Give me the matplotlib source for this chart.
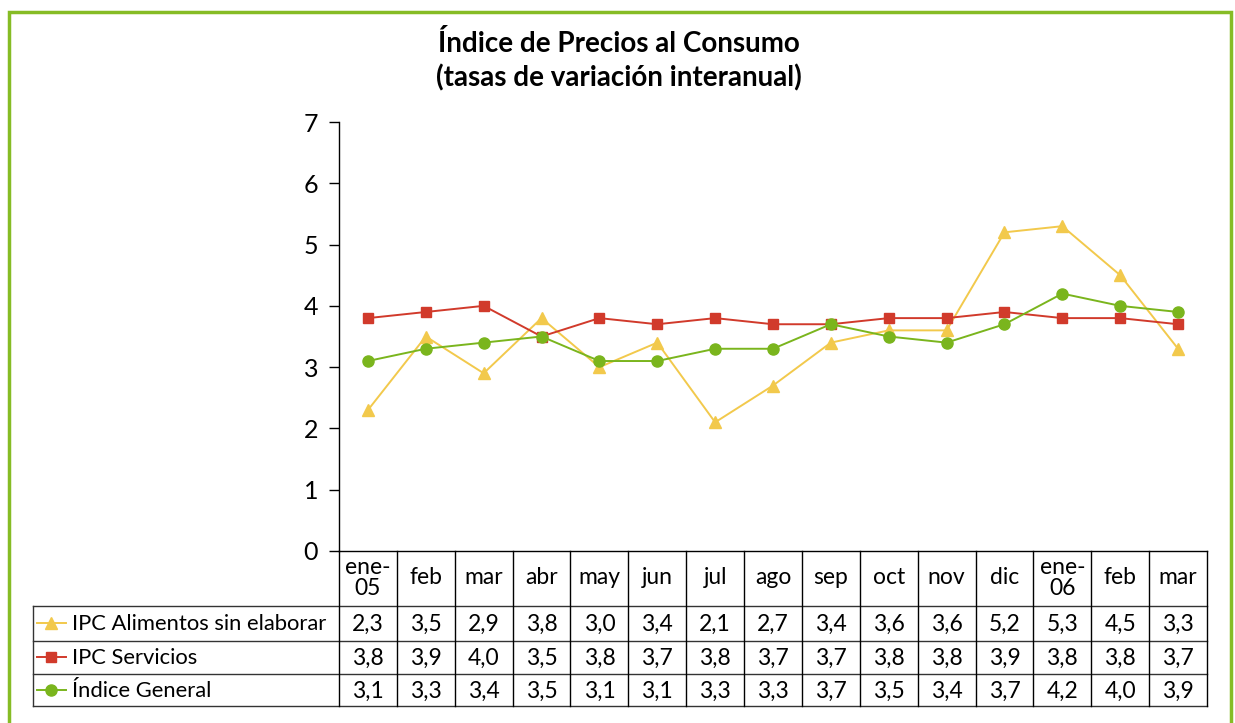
import numpy as np
import matplotlib
matplotlib.use('Agg')
import matplotlib.pyplot as plt
import matplotlib.transforms as mtransforms
from matplotlib.patches import Rectangle
from matplotlib.lines import Line2D

plt.rcParams['font.family'] = ['Lato', 'DejaVu Sans']

# datos
meses = ['ene-\n05', 'feb', 'mar', 'abr', 'may', 'jun', 'jul', 'ago', 'sep',
         'oct', 'nov', 'dic', 'ene-\n06', 'feb', 'mar']
alimentos = [2.3, 3.5, 2.9, 3.8, 3.0, 3.4, 2.1, 2.7, 3.4, 3.6, 3.6, 5.2, 5.3, 4.5, 3.3]
servicios = [3.8, 3.9, 4.0, 3.5, 3.8, 3.7, 3.8, 3.7, 3.7, 3.8, 3.8, 3.9, 3.8, 3.8, 3.7]
general = [3.1, 3.3, 3.4, 3.5, 3.1, 3.1, 3.3, 3.3, 3.7, 3.5, 3.4, 3.7, 4.2, 4.0, 3.9]
nombres = ['IPC Alimentos sin elaborar', 'IPC Servicios', 'Índice General']
yticks = [0, 1, 2, 3, 4, 5, 6, 7]

amarillo = '#F2C94C'
rojo = '#D13A2B'
verde = '#7AB51D'

W, H = 1235, 723
fig = plt.figure(figsize=(W / 100, H / 100), dpi=100)
ax = fig.add_axes([339 / W, 1 - 551 / H, (1207 - 339) / W, (551 - 122) / H])

x = np.arange(len(meses))
series = [(alimentos, amarillo, '^', 8), (servicios, rojo, 's', 7.5), (general, verde, 'o', 8)]
for vals, col, mk, ms in series:
    ax.plot(x, vals, color=col, marker=mk, markersize=ms, linewidth=1.4,
            markeredgecolor=col)

ax.set_xlim(-0.5, len(meses) - 0.5)
ax.set_ylim(0, 7)
ax.set_yticks(yticks)
ax.set_yticklabels([str(t) for t in yticks], fontsize=18)
ax.tick_params(axis='y', direction='out', length=7, width=1, pad=8)
ax.set_xticks([])
for s in ['top', 'right']:
    ax.spines[s].set_visible(False)
ax.spines['left'].set_linewidth(1)
ax.spines['bottom'].set_linewidth(1)

fig.text(619 / W, 1 - 44 / H, 'Índice de Precios al Consumo', ha='center', va='center',
         fontsize=20, fontweight='bold')
fig.text(619 / W, 1 - 78 / H, '(tasas de variación interanual)', ha='center', va='center',
         fontsize=20, fontweight='bold')

# tabla
ah = 551 - 122
def yy(p):
    return -(p - 551) / ah

tr_data = mtransforms.blended_transform_factory(ax.transData, ax.transAxes)
tr_fig = mtransforms.blended_transform_factory(fig.transFigure, ax.transAxes)
lc = '#333333'

# lineas horizontales
for p in [606, 641, 674, 706]:
    ax.add_line(Line2D([33 / W, 1207 / W], [yy(p), yy(p)], transform=tr_fig,
                       color=lc, lw=1, clip_on=False))
ax.add_line(Line2D([33 / W, 33 / W], [yy(606), yy(706)], transform=tr_fig,
                   color=lc, lw=1, clip_on=False))
# lineas verticales
for i in range(len(meses) + 1):
    ax.add_line(Line2D([i - 0.5, i - 0.5], [0, yy(706)], transform=tr_data,
                       color='black', lw=1, clip_on=False))

for i, m in enumerate(meses):
    ax.text(i, yy(578), m, transform=tr_data, ha='center', va='center',
            fontsize=16.5, linespacing=0.95)

filas = [624, 658, 691]
for (vals, col, mk, ms), nombre, p in zip(series, nombres, filas):
    for i, v in enumerate(vals):
        ax.text(i, yy(p), f'{v:.1f}'.replace('.', ','), transform=tr_data,
                ha='center', va='center', fontsize=16.5)
    ax.add_line(Line2D([37 / W, 66 / W], [yy(p - 1), yy(p - 1)], transform=tr_fig,
                       color=col, lw=1.4, clip_on=False))
    ax.add_line(Line2D([51 / W], [yy(p - 1)], transform=tr_fig, color=col, marker=mk,
                       markersize=ms, clip_on=False))
    ax.text(72 / W, yy(p), nombre, transform=tr_fig, ha='left', va='center', fontsize=15.8)

# marco verde
fig.patches.append(Rectangle((9 / W, -0.2), (1231 - 9) / W, 1.2 - 12 / H,
                             transform=fig.transFigure, fill=False,
                             edgecolor='#86BC25', linewidth=2.5))

fig.savefig('out.png', dpi=100)
